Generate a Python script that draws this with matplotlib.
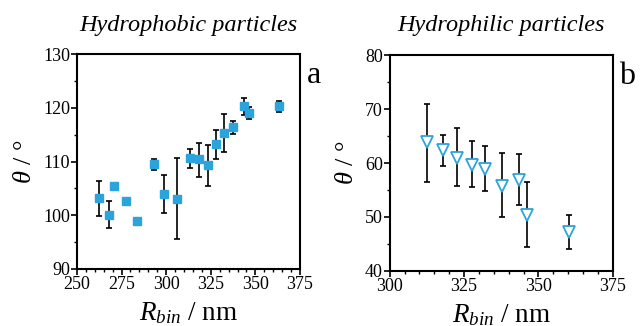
import matplotlib
matplotlib.use('Agg')
import numpy as np
import matplotlib.pyplot as plt
from matplotlib.ticker import MultipleLocator

plt.rcParams['font.family'] = ['Liberation Serif', 'DejaVu Serif']
plt.rcParams['mathtext.fontset'] = 'custom'
plt.rcParams['mathtext.it'] = 'Liberation Serif:italic'
plt.rcParams['mathtext.rm'] = 'Liberation Serif'

# hydrophobic particles (panel a)
r_phob = [262.3, 267.8, 270.6, 277.5, 283.9, 293.2, 299.0, 306.0, 313.4,
          318.3, 323.5, 328.0, 332.5, 337.4, 343.9, 346.2, 363.4]
th_phob = [103.2, 100.1, 105.5, 102.7, 99.0, 109.5, 104.0, 103.1, 110.7,
           110.4, 109.3, 113.3, 115.4, 116.4, 120.3, 119.1, 120.3]
lo_phob = [99.9, 97.6, 105.5, 102.7, 98.8, 108.5, 100.4, 95.6, 108.8,
           107.2, 105.5, 110.4, 111.8, 115.1, 118.7, 118.0, 119.3]
hi_phob = [106.4, 102.6, 105.5, 102.7, 99.2, 110.5, 107.4, 110.6, 112.4,
           113.4, 113.1, 115.9, 118.8, 117.6, 121.9, 120.1, 121.3]

# hydrophilic particles (panel b)
r_phil = [312.6, 317.9, 322.5, 327.5, 332.1, 337.7, 343.3, 346.1, 360.4]
th_phil = [63.8, 62.4, 61.0, 59.7, 58.9, 55.8, 56.9, 50.4, 47.3]
lo_phil = [56.5, 59.5, 55.8, 55.6, 54.9, 49.9, 52.3, 44.4, 44.1]
hi_phil = [71.0, 65.2, 66.4, 64.0, 63.1, 61.8, 61.6, 56.5, 50.4]

blue = '#2ba3dc'

fig = plt.figure(figsize=(6.41, 3.26), dpi=100)
ax1 = fig.add_axes([0.120, 0.175, 0.348, 0.659])
ax2 = fig.add_axes([0.608, 0.169, 0.348, 0.662])


def errs(y, lo, hi):
    y = np.array(y)
    return [y - np.array(lo), np.array(hi) - y]


ax1.errorbar(r_phob, th_phob, yerr=errs(th_phob, lo_phob, hi_phob), fmt='none',
             ecolor='black', elinewidth=1.2, capsize=2, capthick=1.2)
ax1.plot(r_phob, th_phob, 's', color=blue, ms=5.3, mec=blue)

ax2.errorbar(r_phil, th_phil, yerr=errs(th_phil, lo_phil, hi_phil), fmt='none',
             ecolor='black', elinewidth=1.2, capsize=2, capthick=1.2)
ax2.plot(r_phil, th_phil, 'v', color=blue, ms=9, mfc='white', mec=blue, mew=1.3)

ax1.set_xlim(250, 375)
ax1.set_ylim(90, 130)
ax2.set_xlim(300, 375)
ax2.set_ylim(40, 80)
ax1.xaxis.set_major_locator(MultipleLocator(25))
ax1.xaxis.set_minor_locator(MultipleLocator(5))
ax1.yaxis.set_major_locator(MultipleLocator(10))
ax1.yaxis.set_minor_locator(MultipleLocator(5))
ax2.xaxis.set_major_locator(MultipleLocator(25))
ax2.xaxis.set_minor_locator(MultipleLocator(5))
ax2.yaxis.set_major_locator(MultipleLocator(10))
ax2.yaxis.set_minor_locator(MultipleLocator(5))

titles = ['Hydrophobic particles', 'Hydrophilic particles']
letters = ['a', 'b']
for ax, t, l in zip([ax1, ax2], titles, letters):
    for s in ax.spines.values():
        s.set_linewidth(1.5)
    ax.tick_params(which='major', direction='out', length=4, width=1.2,
                   labelsize=13, pad=1)
    ax.tick_params(which='minor', direction='out', length=2, width=1)
    ax.set_ylabel(r'$\theta$ / °', fontsize=19, labelpad=5)
    ax.set_xlabel(r'$R_{bin}$ / nm', fontsize=19.5, labelpad=5)
    ax.set_title(t, fontsize=17.5, style='italic', pad=17)
    ax.text(1.03, 0.90, l, transform=ax.transAxes, fontsize=23, va='center')

fig.savefig('out.png', dpi=100)
